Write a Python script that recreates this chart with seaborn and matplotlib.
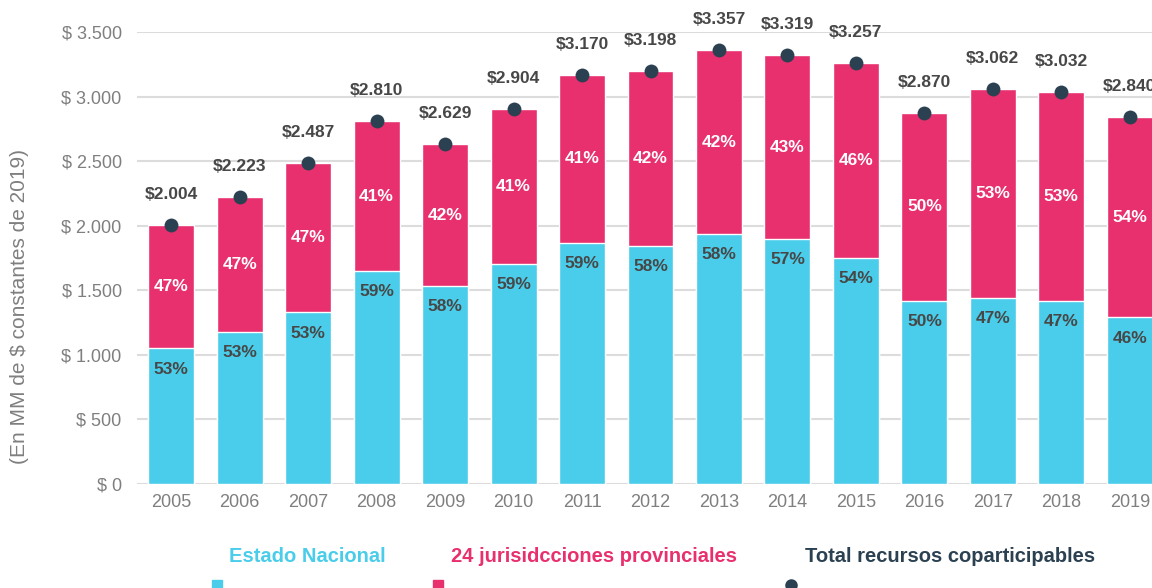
import seaborn as sns
import matplotlib.pyplot as plt
from matplotlib.patches import Rectangle
from matplotlib.lines import Line2D
import pandas as pd

years = ['2005', '2006', '2007', '2008', '2009', '2010', '2011', '2012',
         '2013', '2014', '2015', '2016', '2017', '2018', '2019']
total = [2004, 2223, 2487, 2810, 2629, 2904, 3170, 3198, 3357, 3319, 3257, 2870, 3062, 3032, 2840]
nacional = [1051, 1179, 1329, 1649, 1536, 1706, 1866, 1843, 1936, 1900, 1752, 1420, 1443, 1420, 1291]
provincias = [953, 1044, 1158, 1161, 1093, 1198, 1304, 1355, 1421, 1419, 1505, 1450, 1619, 1612, 1549]
pct_nacional = [53, 53, 53, 59, 58, 59, 59, 58, 58, 57, 54, 50, 47, 47, 46]
pct_provincias = [47, 47, 47, 41, 42, 41, 41, 42, 42, 43, 46, 50, 53, 53, 54]

df = pd.DataFrame({'anio': years, 'total': total, 'nacional': nacional,
                   'provincias': provincias})

cyan = '#4acdea'
pink = '#e8306f'
navy = '#2b4151'
grey = '#7f7f7f'
dark = '#474747'

sns.set_style('white')
plt.rcParams['font.family'] = ['Liberation Sans', 'DejaVu Sans']

fig = plt.figure(figsize=(11.52, 5.88), dpi=100)
ax = fig.add_axes([137/1152, 104/588, 1027/1152, 452/588])

# pink = total, cyan drawn over it = national share
sns.barplot(data=df, x='anio', y='total', color=pink, saturation=1, width=0.67, ax=ax)
sns.barplot(data=df, x='anio', y='nacional', color=cyan, saturation=1, width=0.67, ax=ax)
sns.stripplot(data=df, x='anio', y='total', color=navy, jitter=False, size=10,
              linewidth=0, ax=ax, zorder=5)

for i, row in df.iterrows():
    ax.annotate(f"${row.total/1000:.3f}", (i, row.total), xytext=(0, 22),
                textcoords='offset points', ha='center', va='center',
                fontsize=12.5, fontweight='bold', color=dark)
    ax.annotate(f"{pct_nacional[i]}%", (i, row.nacional), xytext=(0, -15),
                textcoords='offset points', ha='center', va='center',
                fontsize=12.5, fontweight='bold', color=dark)
    ax.text(i, row.nacional + row.provincias / 2, f"{pct_provincias[i]}%",
            ha='center', va='center', fontsize=12.5, fontweight='bold', color='white')

ax.set_ylim(0, 3500)
ax.set_xlim(-0.5, len(years) - 0.5)
ax.set_yticks(range(0, 3501, 500))
ax.set_yticklabels([f"$ {v:,}".replace(',', '.') for v in range(0, 3501, 500)])
ax.yaxis.grid(True, color='#dcdcdc', lw=1.5)
ax.set_axisbelow(True)
sns.despine(ax=ax, left=True, bottom=True)
ax.tick_params(axis='y', length=0, labelsize=13, labelcolor=grey, pad=11)
ax.tick_params(axis='x', length=0, labelsize=13, labelcolor=grey, pad=7)
ax.set_xlabel('')
ax.set_ylabel('')

fig.text(20/1152, 1 - 307/588, '(En MM de $ constantes de 2019)', rotation=90,
         ha='center', va='center', fontsize=15, color=grey)

# legend drawn by hand, text above the markers
fig.text(307/1152, 1 - 556/588, 'Estado Nacional', ha='center', va='center',
         fontsize=14.5, fontweight='bold', color=cyan)
fig.text(594/1152, 1 - 556/588, '24 jurisidcciones provinciales', ha='center', va='center',
         fontsize=14.5, fontweight='bold', color=pink)
fig.text(950/1152, 1 - 556/588, 'Total recursos coparticipables', ha='center', va='center',
         fontsize=14.5, fontweight='bold', color=navy)
fig.add_artist(Rectangle((212/1152, 1 - 592/588), 10/1152, 12/588,
                         transform=fig.transFigure, color=cyan))
fig.add_artist(Rectangle((433/1152, 1 - 592/588), 10/1152, 12/588,
                         transform=fig.transFigure, color=pink))
fig.add_artist(Line2D([791/1152], [1 - 585/588], marker='o', ms=8, color=navy,
                      transform=fig.transFigure))

plt.savefig('out.png', dpi=100)
